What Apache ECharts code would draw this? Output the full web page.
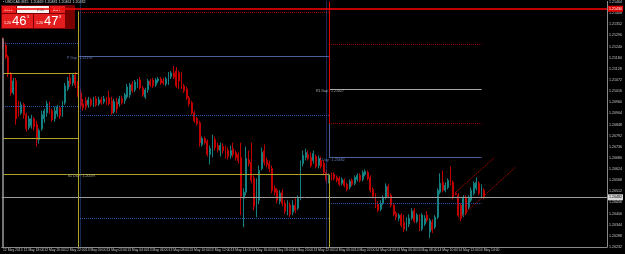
<!DOCTYPE html>
<html><head><meta charset="utf-8">
<script src="https://cdn.jsdelivr.net/npm/echarts/dist/echarts.min.js"></script>
<style>html,body{margin:0;padding:0;background:#000;overflow:hidden}#c{width:625px;height:254px;}</style>
</head><body><div id="c"></div><script>
// ---- tick labels (every 8 bars of M15) ----
const tickLabels = ["12 May 2015","12 May 18:00","12 May 20:00","12 May 22:00",
"13 May 00:00","13 May 02:00","13 May 04:00","13 May 06:00","13 May 08:00","13 May 10:00","13 May 12:00","13 May 14:00",
"13 May 16:00","13 May 18:00","13 May 20:00","13 May 22:00",
"14 May 00:00","14 May 02:00","14 May 04:00","14 May 06:00","14 May 08:00","14 May 10:00","14 May 12:00","14 May 14:00"];
const totalSlots = 234;

// ---- OHLC values ----
const opens = [1.21267,1.21247,1.21187,1.21102,1.21007,1.21067,1.20947,1.20907,1.20947,1.20897,
1.20832,1.20842,1.20877,1.20847,1.20772,1.20827,1.20877,1.20907,1.20947,1.20917,
1.20877,1.20902,1.20932,1.20897,1.20957,1.21027,1.21082,1.21057,1.21097,1.21047,
1.21007,1.20952,1.20967,1.20947,1.20972,1.20947,1.20977,1.20952,1.20972,1.20962,
1.20977,1.20982,1.20967,1.20912,1.20962,1.20952,1.20977,1.20967,1.20987,1.20997,
1.21052,1.21022,1.21047,1.21072,1.21032,1.20987,1.21022,1.21067,1.21072,1.21047,
1.21067,1.21077,1.21067,1.21052,1.21057,1.21087,1.21107,1.21117,1.21107,1.21077,
1.21042,1.21027,1.20982,1.20957,1.20907,1.20877,1.20857,1.20747,1.20777,1.20762,
1.20697,1.20692,1.20772,1.20742,1.20717,1.20737,1.20727,1.20717,1.20692,1.20727,
1.20707,1.20697,1.20682,1.20477,1.20507,1.20672,1.20657,1.20577,1.20427,1.20467,
1.20627,1.20717,1.20667,1.20652,1.20627,1.20527,1.20517,1.20462,1.20507,1.20452,
1.20407,1.20442,1.20407,1.20442,1.20427,1.20477,1.20652,1.20682,1.20697,1.20682,
1.20667,1.20687,1.20642,1.20667,1.20652,1.20607,1.20562,1.20597,1.20597,1.20582,
1.20577,1.20552,1.20567,1.20547,1.20532,1.20567,1.20552,1.20572,1.20592,1.20572,
1.20597,1.20607,1.20582,1.20522,1.20492,1.20447,1.20422,1.20452,1.20482,1.20537,
1.20492,1.20442,1.20402,1.20377,1.20392,1.20357,1.20327,1.20347,1.20377,1.20417,
1.20362,1.20382,1.20322,1.20347,1.20392,1.20307,1.20357,1.20332,1.20382,1.20507,
1.20557,1.20517,1.20532,1.20572,1.20557,1.20502,1.20492,1.20442,1.20392,1.20482,
1.20432,1.20467,1.20502,1.20527,1.20552,1.20492,1.20517];
const closes = [1.21242,1.21187,1.21102,1.21007,1.21067,1.20877,1.20902,1.20947,1.20897,1.20827,
1.20877,1.20877,1.20837,1.20772,1.20817,1.20897,1.20917,1.20952,1.20917,1.20872,
1.20917,1.20937,1.20892,1.20947,1.21042,1.21067,1.21052,1.21097,1.21047,1.21007,
1.20942,1.20932,1.20937,1.20972,1.20947,1.20977,1.20947,1.20972,1.20957,1.20977,
1.20962,1.20952,1.20907,1.20962,1.20927,1.20977,1.20957,1.20997,1.21037,1.21047,
1.21017,1.21062,1.21072,1.21032,1.20997,1.21022,1.21067,1.21047,1.21042,1.21072,
1.21077,1.21057,1.21057,1.21077,1.21097,1.21107,1.21087,1.21042,1.21067,1.21037,
1.21017,1.20982,1.20952,1.20907,1.20867,1.20852,1.20757,1.20777,1.20757,1.20697,
1.20727,1.20772,1.20732,1.20722,1.20742,1.20717,1.20697,1.20687,1.20717,1.20697,
1.20682,1.20667,1.20487,1.20507,1.20677,1.20652,1.20567,1.20437,1.20557,1.20617,
1.20707,1.20657,1.20647,1.20627,1.20517,1.20507,1.20467,1.20502,1.20452,1.20412,
1.20447,1.20397,1.20442,1.20417,1.20477,1.20652,1.20692,1.20707,1.20677,1.20642,
1.20702,1.20637,1.20677,1.20637,1.20607,1.20567,1.20587,1.20582,1.20577,1.20567,
1.20547,1.20572,1.20542,1.20522,1.20562,1.20547,1.20582,1.20592,1.20567,1.20607,
1.20612,1.20577,1.20517,1.20487,1.20437,1.20417,1.20452,1.20482,1.20537,1.20487,
1.20442,1.20397,1.20382,1.20392,1.20342,1.20322,1.20367,1.20377,1.20412,1.20362,
1.20392,1.20327,1.20392,1.20377,1.20367,1.20367,1.20317,1.20382,1.20517,1.20552,
1.20517,1.20542,1.20567,1.20552,1.20482,1.20497,1.20392,1.20377,1.20482,1.20402,
1.20482,1.20517,1.20552,1.20557,1.20502,1.20537,1.20482];
const lows = [1.21227,1.21177,1.21087,1.20992,1.20997,1.20847,1.20887,1.20897,1.20877,1.20812,
1.20822,1.20827,1.20817,1.20737,1.20752,1.20817,1.20857,1.20887,1.20902,1.20862,
1.20862,1.20887,1.20877,1.20887,1.20947,1.21017,1.21037,1.21042,1.21032,1.20987,
1.20927,1.20917,1.20922,1.20932,1.20937,1.20937,1.20937,1.20942,1.20947,1.20952,
1.20947,1.20942,1.20897,1.20902,1.20907,1.20937,1.20947,1.20952,1.20977,1.20982,
1.21007,1.21012,1.21032,1.21022,1.20987,1.20977,1.21007,1.21037,1.21032,1.21037,
1.21057,1.21047,1.21047,1.21042,1.21047,1.21077,1.21077,1.21032,1.21027,1.21027,
1.21007,1.20972,1.20937,1.20897,1.20857,1.20842,1.20737,1.20737,1.20747,1.20687,
1.20647,1.20682,1.20717,1.20707,1.20687,1.20702,1.20677,1.20672,1.20677,1.20682,
1.20667,1.20652,1.20392,1.20332,1.20492,1.20637,1.20552,1.20417,1.20382,1.20447,
1.20617,1.20642,1.20632,1.20607,1.20502,1.20492,1.20452,1.20447,1.20437,1.20397,
1.20392,1.20382,1.20392,1.20402,1.20417,1.20467,1.20637,1.20667,1.20667,1.20632,
1.20652,1.20627,1.20627,1.20627,1.20592,1.20552,1.20552,1.20567,1.20567,1.20557,
1.20537,1.20542,1.20532,1.20512,1.20522,1.20537,1.20542,1.20562,1.20557,1.20562,
1.20587,1.20567,1.20507,1.20477,1.20427,1.20407,1.20412,1.20442,1.20472,1.20477,
1.20432,1.20387,1.20367,1.20362,1.20332,1.20307,1.20312,1.20332,1.20367,1.20352,
1.20352,1.20312,1.20312,1.20337,1.20357,1.20277,1.20302,1.20322,1.20372,1.20497,
1.20507,1.20507,1.20522,1.20542,1.20472,1.20492,1.20382,1.20362,1.20382,1.20392,
1.20422,1.20457,1.20492,1.20517,1.20492,1.20482,1.20472];
const highs = [1.21287,1.21262,1.21197,1.21112,1.21082,1.21082,1.20967,1.20962,1.20957,1.20907,
1.20892,1.20897,1.20887,1.20867,1.20827,1.20917,1.20927,1.20967,1.20962,1.20927,
1.20937,1.20947,1.20942,1.20967,1.21057,1.21087,1.21102,1.21107,1.21112,1.21067,
1.21027,1.20977,1.20987,1.20987,1.20982,1.20987,1.20992,1.20987,1.20987,1.20992,
1.20987,1.21017,1.20987,1.20977,1.20982,1.20992,1.20992,1.21007,1.21052,1.21057,
1.21067,1.21072,1.21077,1.21087,1.21042,1.21032,1.21077,1.21077,1.21082,1.21082,
1.21087,1.21087,1.21082,1.21087,1.21112,1.21117,1.21142,1.21137,1.21117,1.21112,
1.21052,1.21037,1.20992,1.20967,1.20917,1.20887,1.20867,1.20787,1.20787,1.20772,
1.20742,1.20797,1.20787,1.20757,1.20757,1.20752,1.20742,1.20732,1.20742,1.20757,
1.20717,1.20707,1.20757,1.20527,1.20737,1.20717,1.20757,1.20592,1.20577,1.20642,
1.20732,1.20747,1.20682,1.20667,1.20642,1.20542,1.20527,1.20517,1.20522,1.20467,
1.20467,1.20457,1.20467,1.20477,1.20492,1.20667,1.20717,1.20727,1.20717,1.20707,
1.20717,1.20697,1.20692,1.20687,1.20667,1.20617,1.20602,1.20607,1.20607,1.20592,
1.20587,1.20582,1.20577,1.20557,1.20572,1.20577,1.20592,1.20602,1.20602,1.20617,
1.20622,1.20617,1.20592,1.20532,1.20502,1.20462,1.20467,1.20492,1.20552,1.20547,
1.20502,1.20452,1.20412,1.20402,1.20402,1.20392,1.20382,1.20397,1.20427,1.20427,
1.20402,1.20397,1.20402,1.20392,1.20412,1.20377,1.20372,1.20392,1.20527,1.20602,
1.20617,1.20557,1.20577,1.20637,1.20567,1.20507,1.20502,1.20452,1.20492,1.20492,
1.20492,1.20532,1.20562,1.20582,1.20562,1.20547,1.20527];

// ---- levels (prices) and period boundaries (bar index) ----
const dayStart = [29.3, 125.5];
const lineEnd = 184.6;
const prevDaySolid = [1.21107, 1.20777];
const prevDayDotted = [1.21257, 1.20942];
const day1Pivot = 1.21192;
const day1Dotted = [1.20897, 1.20377];
const day1RedDotted = [1.21414];
const s1Level = 1.20597;
const day2Pivot = 1.20682;
const day2R1 = 1.21027;
const day2RedDotted = [1.21252, 1.20852];
const day2Dotted = [1.20452];
const alertLevel = 1.21430;
const bidLevel = 1.20482;
const channelUpper = [[175.1, 1.20507], [190.3, 1.20682]];
const channelLower = [[175.8, 1.20372], [198.0, 1.20632]];
const yMin = 1.20232, yMax = 1.21467, yStep = 0.00056;

const cats = [];
for (let i = 0; i < totalSlots; i++) cats.push(String(i));
const candles = opens.map((o, i) => [o, closes[i], lows[i], highs[i]]);

const FONT = 'Liberation Sans';
const YEL = '#b3a12a', BLUE = '#4b5f98', BLUED = '#2855a6', RED_D = '#9a0000', GRAY = '#a8a8a8';
function seg(x1, p1, x2, p2, color, type, width, label) {
  const st = {color: color, type: type, width: width || 1, opacity: 1};
  const a = {coord: [x1, p1], lineStyle: st, label: label || {show: false}};
  const b = {coord: [x2, p2], lineStyle: st, label: label || {show: false}};
  return [a, b];
}
function lbl(text, color, dx) {
  return {show: true, formatter: text, position: 'insideStartBottom', distance: [dx, 0],
          color: color, fontSize: 3.6, fontFamily: FONT};
}
const L = -0.5;
const ml = [];
prevDaySolid.forEach(p => ml.push(seg(L, p, dayStart[0], p, YEL, 'solid', 1)));
prevDayDotted.forEach(p => ml.push(seg(L, p, dayStart[0], p, BLUED, [1, 1], 1)));
ml.push(seg(dayStart[0], day1Pivot, dayStart[1], day1Pivot, BLUE, 'solid', 1, lbl('P Day : ' + day1Pivot.toFixed(5), '#6a7cb8', -11)));
day1Dotted.forEach(p => ml.push(seg(dayStart[0], p, dayStart[1], p, BLUED, [1, 1], 1)));
day1RedDotted.forEach(p => ml.push(seg(dayStart[0], p, dayStart[1], p, RED_D, [1, 1], 1)));
ml.push(seg(L, s1Level, 24.5, s1Level, YEL, 'solid', 1));
ml.push(seg(24.5, s1Level, dayStart[1], s1Level, YEL, 'solid', 1, lbl('S1 Day : ' + s1Level.toFixed(5), '#b8b080', 0)));
ml.push(seg(dayStart[1], day2R1, lineEnd, day2R1, GRAY, 'solid', 1, lbl('R1 Day : ' + day2R1.toFixed(5), '#b0b0b0', -13)));
ml.push(seg(dayStart[1], day2Pivot, lineEnd, day2Pivot, BLUE, 'solid', 1, lbl('P Day : ' + day2Pivot.toFixed(5), '#6a7cb8', -10)));
day2RedDotted.forEach(p => ml.push(seg(dayStart[1], p, lineEnd, p, RED_D, [1, 1], 1)));
day2Dotted.forEach(p => ml.push(seg(dayStart[1], p, lineEnd, p, BLUED, [1, 1], 1)));
// vertical period lines
ml.push(seg(dayStart[0] - 0.3, 1.21417, dayStart[0] - 0.3, yMin, YEL, 'solid', 1));
ml.push(seg(dayStart[0] + 0.4, yMax, dayStart[0] + 0.4, yMin, BLUED, [1, 1], 1));
ml.push(seg(dayStart[1], yMax, dayStart[1], day2RedDotted[1], '#e00000', 'solid', 1));
ml.push(seg(dayStart[1] + 0.3, day2RedDotted[1], dayStart[1] + 0.3, day2Pivot, BLUE, 'solid', 1));
ml.push(seg(dayStart[1] - 0.7, yMax, dayStart[1] - 0.7, yMin, BLUED, [1, 1], 1));
ml.push(seg(dayStart[1], s1Level, dayStart[1], yMin, YEL, 'solid', 1));
ml.push(seg(L + 0.1, 1.21282, L + 0.1, yMin, '#9a9a9a', 'solid', 1.5));
// channel
ml.push(seg(channelUpper[0][0], channelUpper[0][1], channelUpper[1][0], channelUpper[1][1], '#a00000', [2, 1], 1));
ml.push(seg(channelLower[0][0], channelLower[0][1], channelLower[1][0], channelLower[1][1], '#a00000', [2, 1], 1));
// full-width horizontal lines with axis tags
ml.push({yAxis: alertLevel, lineStyle: {color: '#ff0000', type: 'solid', width: 1.5},
  label: {show: true, position: 'end', formatter: alertLevel.toFixed(5), backgroundColor: '#e00000', color: '#fff',
          fontSize: 3.6, fontFamily: FONT, padding: [1, 1], distance: 1}});
ml.push({yAxis: bidLevel, lineStyle: {color: '#9c9c9c', type: 'solid', width: 1},
  label: {show: true, position: 'end', formatter: bidLevel.toFixed(5), backgroundColor: '#d8d8d8', color: '#000',
          fontSize: 3.6, fontFamily: FONT, padding: [1, 1], distance: 1}});

const chart = echarts.init(document.getElementById('c'), null, {renderer: 'canvas'});
chart.setOption({
  backgroundColor: '#000',
  animation: false,
  grid: {left: 0, right: 12, top: 0, bottom: 7},
  xAxis: {
    type: 'category', data: cats, boundaryGap: true,
    axisLine: {show: true, lineStyle: {color: '#8a8a8a', width: 1}},
    axisTick: {show: false},
    axisLabel: {interval: 7, showMinLabel: true, align: 'left', margin: 2, fontSize: 3.4, color: '#c8c8c8', fontFamily: FONT,
      formatter: (v, i) => (i % 8 === 0 && tickLabels[i / 8]) ? tickLabels[i / 8] : ''},
    splitLine: {show: false}
  },
  yAxis: {
    type: 'value', position: 'right', min: yMin, max: yMax, interval: yStep, scale: true,
    axisLine: {show: true, lineStyle: {color: '#8a8a8a', width: 1}},
    axisTick: {show: false},
    axisLabel: {margin: 2, fontSize: 3.6, color: '#c8c8c8', fontFamily: FONT, formatter: v => v.toFixed(5)},
    splitLine: {show: false}
  },
  series: [{
    type: 'candlestick', data: candles, barWidth: 1.4,
    itemStyle: {color: '#148a8a', color0: '#f00000', borderColor: '#158080', borderColor0: '#c00000', borderWidth: 1},
    markLine: {silent: true, precision: 5, symbol: ['none', 'none'], animation: false, data: ml}
  }],
  graphic: [
    {type: 'text', left: 3, top: 0, style: {text: '\u25AA USDCAD,M15  1.20469 1.20481 1.20461 1.20482', fill: '#d8d8d8', font: '3.6px Liberation Sans'}},
    {type: 'group', left: 1, top: 5, children: [
      {type: 'rect', shape: {x: 0, y: 0, width: 74, height: 24}, style: {fill: '#7a0000'}},
      {type: 'rect', shape: {x: 1, y: 1, width: 14, height: 7}, style: {fill: '#e41e1e'}},
      {type: 'text', x: 3, y: 2.5, style: {text: 'SELL', fill: '#fff', font: '3.6px Liberation Sans'}},
      {type: 'rect', shape: {x: 16, y: 1, width: 32, height: 7}, style: {fill: '#f4f4f4'}},
      {type: 'text', x: 18, y: 2.5, style: {text: '\u2212', fill: '#333', font: '3.6px Liberation Sans'}},
      {type: 'text', x: 36, y: 2.5, style: {text: '2.55', fill: '#333', font: '3.6px Liberation Sans'}},
      {type: 'rect', shape: {x: 49, y: 1, width: 15, height: 7}, style: {fill: '#e41e1e'}},
      {type: 'text', x: 52, y: 2.5, style: {text: 'BUY', fill: '#fff', font: '3.6px Liberation Sans'}},
      {type: 'rect', shape: {x: 1, y: 9, width: 31, height: 14}, style: {fill: '#e41e1e'}},
      {type: 'text', x: 3, y: 16, style: {text: '1.20', fill: '#fff', font: '3.6px Liberation Sans'}},
      {type: 'text', x: 11, y: 9.5, style: {text: '46', fill: '#fff', font: '13px Liberation Sans'}},
      {type: 'text', x: 26, y: 10, style: {text: '3', fill: '#fff', font: '3.6px Liberation Sans'}},
      {type: 'rect', shape: {x: 33, y: 9, width: 31, height: 14}, style: {fill: '#e41e1e'}},
      {type: 'text', x: 35, y: 16, style: {text: '1.20', fill: '#fff', font: '3.6px Liberation Sans'}},
      {type: 'text', x: 43, y: 9.5, style: {text: '47', fill: '#fff', font: '13px Liberation Sans'}},
      {type: 'text', x: 58, y: 10, style: {text: '3', fill: '#fff', font: '3.6px Liberation Sans'}}
    ]}
  ]
});
</script></body></html>
